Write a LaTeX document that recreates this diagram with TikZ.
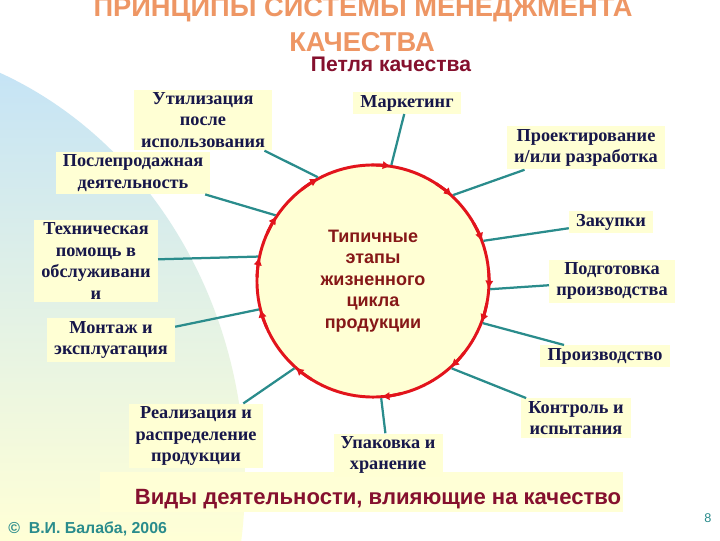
\documentclass[tikz,border=0pt]{standalone}
\usepackage{fontspec}
\setmainfont{Liberation Serif}
\newfontfamily\arialfont{Liberation Sans}
\usepackage{tikz}
\usetikzlibrary{arrows.meta}

\definecolor{navytext}{HTML}{17174A}
\definecolor{tealline}{HTML}{2A8C8C}
\definecolor{loopred}{HTML}{E2141C}
\definecolor{paleyellow}{HTML}{FFFFD4}
\definecolor{bgblue}{HTML}{C4E3F6}
\definecolor{bgyellow}{HTML}{FFFFD6}
\definecolor{titleorange}{HTML}{EE9664}
\definecolor{maroontext}{HTML}{85102E}
\definecolor{darkredtext}{HTML}{861818}

\begin{document}
\begin{tikzpicture}[x=0.025cm,y=0.025cm,
	stage/.style={fill=paleyellow, text=navytext, align=center, inner xsep=5pt, inner ysep=2pt,
		font=\fontsize{13}{15.3}\selectfont\bfseries},
	link/.style={draw=tealline, line width=1.6pt},
	looptip/.style={draw=loopred, line width=2.1pt, -{Latex[length=6pt,width=6pt]}}]

	\useasboundingbox (0,0) rectangle (720,540);
	\clip (0,0) rectangle (720,540);
	%Background
	\fill[white] (0,0) rectangle (720,540);
	\begin{scope}
		\clip (-150,60) ellipse (395 and 440);
		\shade[top color=bgblue, bottom color=bgyellow] (0,480) rectangle (300,0);
	\end{scope}
	\fill[bgyellow] (100,28) rectangle (623,68);

	%Titles
	\node (title1) at (363,523) [anchor=base, text=titleorange,
		font=\arialfont\fontsize{19.4}{20}\selectfont\bfseries] {ПРИНЦИПЫ СИСТЕМЫ МЕНЕДЖМЕНТА};
	\node (title2) at (362,488) [anchor=base, text=titleorange,
		font=\arialfont\fontsize{19.4}{20}\selectfont\bfseries] {КАЧЕСТВА};
	\node (loopname) at (391,468) [anchor=base, text=maroontext,
		font=\arialfont\fontsize{15}{18}\selectfont\bfseries] {Петля качества};

	%The loop
	\node (loop) at (373,259) [circle, draw=loopred, line width=2.1pt, fill=paleyellow,
		minimum size=5.8cm, align=center, text=darkredtext,
		font=\arialfont\fontsize{12.8}{15.3}\selectfont\bfseries] {Типичные\\этапы\\жизненного\\цикла\\продукции};

	%Stages round the loop
	\node (mark) at (407,437) [stage] {Маркетинг};
	\node (proekt) at (586,392) [stage] {Проектирование\\и/или разработка};
	\node (zak) at (611,318) [stage] {Закупки};
	\node (podg) at (612,259) [stage] {Подготовка\\производства};
	\node (proizv) at (605,184) [stage] {Производство};
	\node (kontr) at (576,122) [stage] {Контроль и\\испытания};
	\node (upak) at (388,85) [stage] {Упаковка и\\хранение};
	\node (real) at (196,104) [stage] {Реализация и\\распределение\\продукции};
	\node (mont) at (111,200) [stage] {Монтаж и\\эксплуатация};
	\node (tech) at (96,279) [stage] {Техническая\\помощь в\\обслуживани\\и};
	\node (post) at (133,367) [stage] {Послепродажная\\деятельность};
	\node (util) at (203,420) [stage] {Утилизация\\после\\использования};

	%Connectors
	\draw[link] (mark) -- (loop.81);
	\draw[link] (proekt) -- (loop.47);
	\draw[link] (zak) -- (loop.20);
	\draw[link] (podg) -- (loop.-4);
	\draw[link] (proizv) -- (loop.-21);
	\draw[link] (kontr) -- (loop.-48);
	\draw[link] (upak) -- (loop.-86);
	\draw[link] (real) -- (loop.-132);
	\draw[link] (mont) -- (loop.-166);
	\draw[link] (tech) -- (loop.168);
	\draw[link] (post) -- (loop.146);
	\draw[link] (util) -- (loop.118);

	%Arrow tips on the loop, clockwise
	\foreach \a in {81,47,20,-4,-21,-48,-86,-132,-166,168,146,118}
		\draw[looptip] (loop.center) ++(\a+10:116) arc[start angle=\a+10, end angle=\a, radius=116];

	%Bottom texts
	\node (kinds) at (378,36) [anchor=base, text=maroontext,
		font=\arialfont\fontsize{15.7}{18}\selectfont\bfseries] {Виды деятельности, влияющие на качество};
	\node (copy) at (8,7) [anchor=base west, inner sep=0pt, text=tealline,
		font=\arialfont\fontsize{11.3}{13}\selectfont\bfseries] {©\ \ В.И. Балаба, 2006};
	\node (pagenum) at (708,22) [text=tealline, font=\arialfont\fontsize{9}{10}\selectfont] {8};
\end{tikzpicture}
\end{document}
